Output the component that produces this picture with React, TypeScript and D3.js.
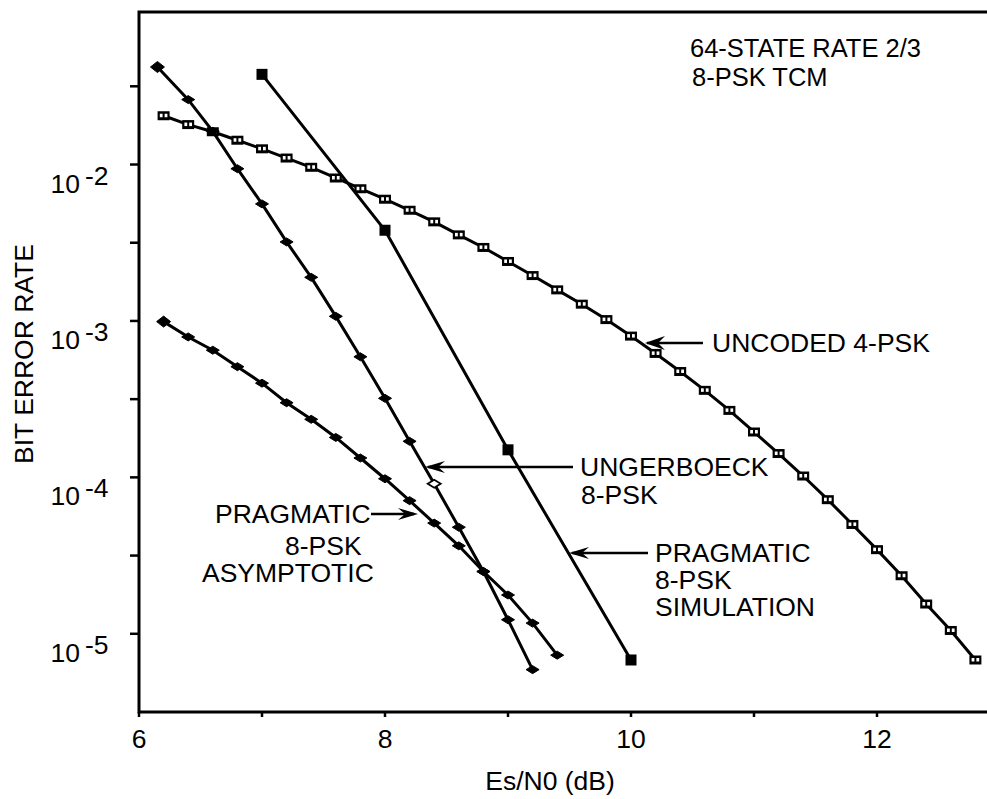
import React from "react";
import * as d3 from "d3";

// ---- data ----
const xTickValues = [6, 7, 8, 9, 10, 11, 12];
const xLabelValues = [6, 8, 10, 12];
const yTickExponents = [-1.5, -2, -2.5, -3, -3.5, -4, -4.5, -5];
const yLabelExponents = [-2, -3, -4, -5];

const uncodedX = [6.2, 6.4, 6.6, 6.8, 7.0, 7.2, 7.4, 7.6, 7.8, 8.0, 8.2, 8.4, 8.6, 8.8, 9.0, 9.2, 9.4, 9.6, 9.8, 10.0, 10.2, 10.4, 10.6, 10.8, 11.0, 11.2, 11.4, 11.6, 11.8, 12.0, 12.2, 12.4, 12.6, 12.8];
const uncodedBER = [2.05e-2, 1.8e-2, 1.62e-2, 1.43e-2, 1.26e-2, 1.1e-2, 9.6e-3, 8.2e-3, 7.0e-3, 6.0e-3, 5.1e-3, 4.3e-3, 3.55e-3, 2.95e-3, 2.4e-3, 1.95e-3, 1.58e-3, 1.28e-3, 1.02e-3, 8.0e-4, 6.2e-4, 4.75e-4, 3.6e-4, 2.68e-4, 1.95e-4, 1.42e-4, 1.02e-4, 7.2e-5, 5.0e-5, 3.45e-5, 2.35e-5, 1.55e-5, 1.05e-5, 6.8e-6];

const simX = [7, 8, 9, 10];
const simBER = [3.77e-2, 3.8e-3, 1.5e-4, 6.8e-6];

const ungerX = [6.15, 6.4, 6.6, 6.8, 7.0, 7.2, 7.4, 7.6, 7.8, 8.0, 8.2, 8.4, 8.6, 8.8, 9.0, 9.2];
const ungerBER = [4.2e-2, 2.6e-2, 1.63e-2, 9.4e-3, 5.6e-3, 3.2e-3, 1.9e-3, 1.07e-3, 5.9e-4, 3.2e-4, 1.7e-4, 9.1e-5, 4.8e-5, 2.5e-5, 1.23e-5, 5.9e-6];

const asymX = [6.2, 6.4, 6.6, 6.8, 7.0, 7.2, 7.4, 7.6, 7.8, 8.0, 8.2, 8.4, 8.6, 8.8, 9.0, 9.2, 9.4];
const asymBER = [9.9e-4, 7.9e-4, 6.5e-4, 5.1e-4, 4.0e-4, 3.0e-4, 2.35e-4, 1.8e-4, 1.33e-4, 9.8e-5, 7.1e-5, 5.1e-5, 3.65e-5, 2.5e-5, 1.77e-5, 1.17e-5, 7.3e-6];

const FONT = "'Liberation Sans', Arial, Helvetica, sans-serif";
const FS = 26.5;

function zip(xs: number[], ys: number[]): [number, number][] {
  return xs.map((v, i) => [v, ys[i]]);
}

function arrowHead(tx: number, ty: number, L = 20, w = 6) {
  return `M${tx},${ty} L${tx + L},${ty - w} L${tx + L * 0.65},${ty} L${tx + L},${ty + w} Z`;
}

export default function App() {
  const left = 139, top = 12, right = 995, bottom = 712;
  const x = d3.scaleLinear().domain([6, 13]).range([left, left + 7 * 123]);
  const y = d3.scaleLog().domain([Math.pow(10, -5.5), Math.pow(10, -1.025)]).range([bottom, top]);
  const line = d3.line<[number, number]>().x((d) => x(d[0])).y((d) => y(d[1]));

  const uncoded = zip(uncodedX, uncodedBER);
  const sim = zip(simX, simBER);
  const unger = zip(ungerX, ungerBER);
  const asym = zip(asymX, asymBER);

  const diamond = (cx: number, cy: number, key: string, hollow = false, big = false) => {
    const hw = big ? 7 : 6.5, hh = big ? 5.5 : 4;
    return (
      <path
        key={key}
        d={`M${cx - hw},${cy} L${cx},${cy - hh} L${cx + hw},${cy} L${cx},${cy + hh} Z`}
        fill={hollow ? "#fff" : "#000"}
        stroke="#000"
        strokeWidth={hollow ? 1.8 : 1}
      />
    );
  };

  const txt = (s: string, tx: number, ty: number, anchor = "start", key?: string, fs = FS) => (
    <text key={key ?? s + tx + ty} x={tx} y={ty} textAnchor={anchor} fontFamily={FONT} fontSize={fs} fill="#000">
      {s}
    </text>
  );

  return (
    <div style={{ position: "absolute", left: 0, top: 0 }}>
      <svg width={987} height={799} viewBox="0 0 987 799" style={{ display: "block", background: "#fff" }}>
        <rect x={0} y={0} width={987} height={799} fill="#fff" />
        {/* frame */}
        <path d={`M${right},${top} L${left},${top} L${left},${bottom} L${right},${bottom}`} fill="none" stroke="#000" strokeWidth={3} />
        {/* y ticks */}
        {yTickExponents.map((e) => (
          <line key={"yt" + e} x1={left - 9} x2={left} y1={y(Math.pow(10, e))} y2={y(Math.pow(10, e))} stroke="#000" strokeWidth={2.5} />
        ))}
        {/* x ticks */}
        {xTickValues.map((v) => (
          <line key={"xt" + v} x1={x(v)} x2={x(v)} y1={bottom} y2={bottom + 5} stroke="#000" strokeWidth={2.5} />
        ))}
        {/* y labels */}
        {yLabelExponents.map((e) => {
          const ty = y(Math.pow(10, e));
          return (
            <g key={"yl" + e}>
              {txt("10", 80, ty + 28, "end", "ylb" + e)}
              {txt(String(e), 85, ty + 20, "start", "yle" + e)}
            </g>
          );
        })}
        {/* x labels */}
        {xLabelValues.map((v) => txt(String(v), x(v), 748, "middle", "xl" + v))}
        {txt("Es/N0 (dB)", 550, 790, "middle", "xtitle")}
        <text x={0} y={0} transform="translate(33,354) rotate(-90)" textAnchor="middle" fontFamily={FONT} fontSize={FS}>
          BIT ERROR RATE
        </text>

        {/* curves */}
        <path d={line(uncoded) || ""} fill="none" stroke="#000" strokeWidth={3} />
        <path d={line(sim) || ""} fill="none" stroke="#000" strokeWidth={3} />
        <path d={line(unger) || ""} fill="none" stroke="#000" strokeWidth={3} />
        <path d={line(asym) || ""} fill="none" stroke="#000" strokeWidth={3} />

        {/* markers */}
        {uncoded.map((d, i) => {
          const cx = x(d[0]), cy = y(d[1]);
          return (
            <g key={"u" + i}>
              <rect x={cx - 6} y={cy - 4.5} width={12} height={9} fill="#000" />
              <rect x={cx - 3.8} y={cy - 2} width={2.8} height={3.5} fill="#fff" />
              <rect x={cx + 1} y={cy - 2} width={2.8} height={3.5} fill="#fff" />
            </g>
          );
        })}
        {sim.map((d, i) => (
          <rect key={"s" + i} x={x(d[0]) - 5.5} y={y(d[1]) - 5.5} width={11} height={11} fill="#000" />
        ))}
        {unger.map((d, i) => diamond(x(d[0]), y(d[1]), "g" + i, d[0] === 8.4, i === 0))}
        {asym.map((d, i) => diamond(x(d[0]), y(d[1]), "a" + i, false, i === 0))}

        {/* annotations */}
        {txt("64-STATE RATE 2/3", 690, 57, "start", "t1", 25.5)}
        {txt("8-PSK TCM", 692, 86, "start", "t2", 25.5)}

        <line x1={647} x2={703} y1={343} y2={343} stroke="#000" strokeWidth={2.5} />
        <path d={arrowHead(645, 343, 20, 7)} fill="#000" />
        {txt("UNCODED 4-PSK", 712, 352, "start", "a1")}

        <line x1={428} x2={573} y1={467} y2={467} stroke="#000" strokeWidth={2.5} />
        <path d={arrowHead(425, 467, 20, 6)} fill="#000" />
        {txt("UNGERBOECK", 580, 476, "start", "a2")}
        {txt("8-PSK", 581, 504, "start", "a3")}

        <line x1={572} x2={648} y1={553} y2={553} stroke="#000" strokeWidth={2.5} />
        <path d={arrowHead(569, 553, 20, 6)} fill="#000" />
        {txt("PRAGMATIC", 655, 562, "start", "a4")}
        {txt("8-PSK", 655, 589, "start", "a5")}
        {txt("SIMULATION", 655, 616, "start", "a6")}

        {txt("PRAGMATIC", 215, 523, "start", "a7")}
        <line x1={371} x2={414} y1={514} y2={514} stroke="#000" strokeWidth={2.5} />
        <path d={arrowHead(418, 514, -20, 6)} fill="#000" />
        {txt("8-PSK", 285, 555, "start", "a8")}
        {txt("ASYMPTOTIC", 202, 582, "start", "a9")}
      </svg>
    </div>
  );
}
